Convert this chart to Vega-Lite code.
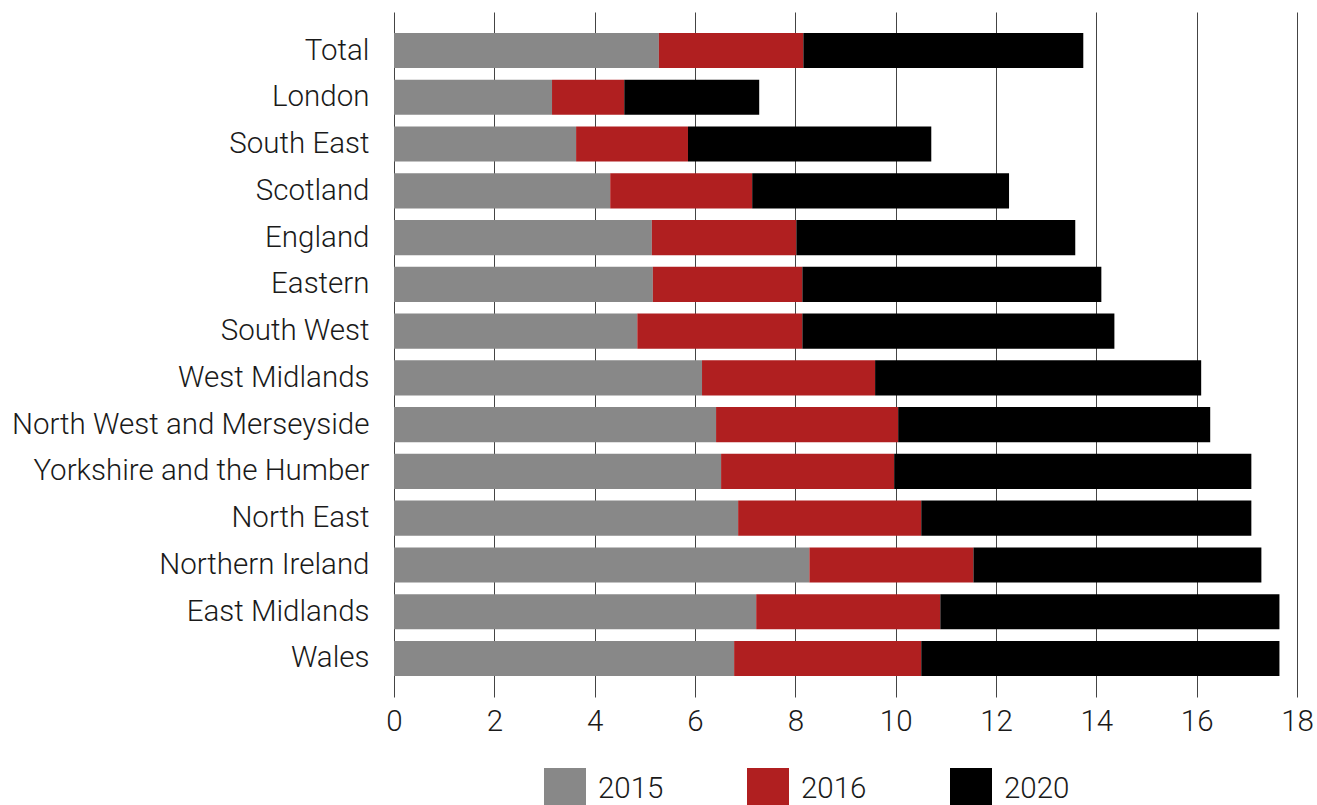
{
  "$schema": "https://vega.github.io/schema/vega-lite/v6.json",
  "autosize": {"type": "none"},
  "padding": {"left": 394, "top": 12, "right": 20, "bottom": 108},
  "width": 903,
  "height": 685,
  "background": "white",
  "data": {"values": [
    {"region": "Total", "year": "2015", "value": 5.28},
    {"region": "Total", "year": "2016", "value": 2.88},
    {"region": "Total", "year": "2020", "value": 5.58},
    {"region": "London", "year": "2015", "value": 3.15},
    {"region": "London", "year": "2016", "value": 1.44},
    {"region": "London", "year": "2020", "value": 2.69},
    {"region": "South East", "year": "2015", "value": 3.63},
    {"region": "South East", "year": "2016", "value": 2.23},
    {"region": "South East", "year": "2020", "value": 4.85},
    {"region": "Scotland", "year": "2015", "value": 4.31},
    {"region": "Scotland", "year": "2016", "value": 2.83},
    {"region": "Scotland", "year": "2020", "value": 5.12},
    {"region": "England", "year": "2015", "value": 5.14},
    {"region": "England", "year": "2016", "value": 2.88},
    {"region": "England", "year": "2020", "value": 5.56},
    {"region": "Eastern", "year": "2015", "value": 5.16},
    {"region": "Eastern", "year": "2016", "value": 2.98},
    {"region": "Eastern", "year": "2020", "value": 5.96},
    {"region": "South West", "year": "2015", "value": 4.85},
    {"region": "South West", "year": "2016", "value": 3.29},
    {"region": "South West", "year": "2020", "value": 6.22},
    {"region": "West Midlands", "year": "2015", "value": 6.14},
    {"region": "West Midlands", "year": "2016", "value": 3.45},
    {"region": "West Midlands", "year": "2020", "value": 6.50},
    {"region": "North West and Merseyside", "year": "2015", "value": 6.42},
    {"region": "North West and Merseyside", "year": "2016", "value": 3.63},
    {"region": "North West and Merseyside", "year": "2020", "value": 6.22},
    {"region": "Yorkshire and the Humber", "year": "2015", "value": 6.52},
    {"region": "Yorkshire and the Humber", "year": "2016", "value": 3.45},
    {"region": "Yorkshire and the Humber", "year": "2020", "value": 7.12},
    {"region": "North East", "year": "2015", "value": 6.86},
    {"region": "North East", "year": "2016", "value": 3.65},
    {"region": "North East", "year": "2020", "value": 6.58},
    {"region": "Northern Ireland", "year": "2015", "value": 8.28},
    {"region": "Northern Ireland", "year": "2016", "value": 3.27},
    {"region": "Northern Ireland", "year": "2020", "value": 5.74},
    {"region": "East Midlands", "year": "2015", "value": 7.22},
    {"region": "East Midlands", "year": "2016", "value": 3.67},
    {"region": "East Midlands", "year": "2020", "value": 6.76},
    {"region": "Wales", "year": "2015", "value": 6.78},
    {"region": "Wales", "year": "2016", "value": 3.73},
    {"region": "Wales", "year": "2020", "value": 7.14}
  ]},
  "mark": {"type": "bar"},
  "encoding": {
    "y": {
      "field": "region", "type": "nominal", "sort": null,
      "scale": {"paddingInner": 0.25, "paddingOuter": 0.45},
      "axis": {"title": null, "ticks": false, "domain": false, "labelFontSize": 29.5, "labelFont": "Roboto", "labelFontWeight": 300, "labelColor": "#1a1a1a", "labelPadding": 25, "labelLimit": 420, "labelDy": 3}
    },
    "x": {
      "field": "value", "type": "quantitative", "stack": "zero",
      "scale": {"domain": [0, 18], "nice": false},
      "axis": {"title": null, "values": [0, 2, 4, 6, 8, 10, 12, 14, 16, 18], "ticks": false, "domain": false, "grid": true, "gridColor": "#444444", "gridWidth": 1, "gridOpacity": 1, "labelFontSize": 29.5, "labelFont": "Roboto", "labelFontWeight": 300, "labelColor": "#1a1a1a", "labelPadding": 10, "labelFlush": false}
    },
    "color": {
      "field": "year", "type": "nominal",
      "scale": {"domain": ["2015", "2016", "2020"], "range": ["#888888", "#B01F20", "#000000"]},
      "legend": {"title": null, "orient": "none", "legendX": 150, "legendY": 756, "direction": "horizontal", "symbolType": "square", "symbolSize": 1764, "symbolStrokeWidth": 0, "symbolOpacity": 1, "labelFontSize": 29.5, "labelFont": "Roboto", "labelFontWeight": 300, "labelColor": "#1a1a1a", "labelOffset": 12, "columnPadding": 83}
    },
    "order": {"field": "year", "type": "nominal", "sort": "ascending"}
  },
  "config": {"view": {"stroke": null}}
}
